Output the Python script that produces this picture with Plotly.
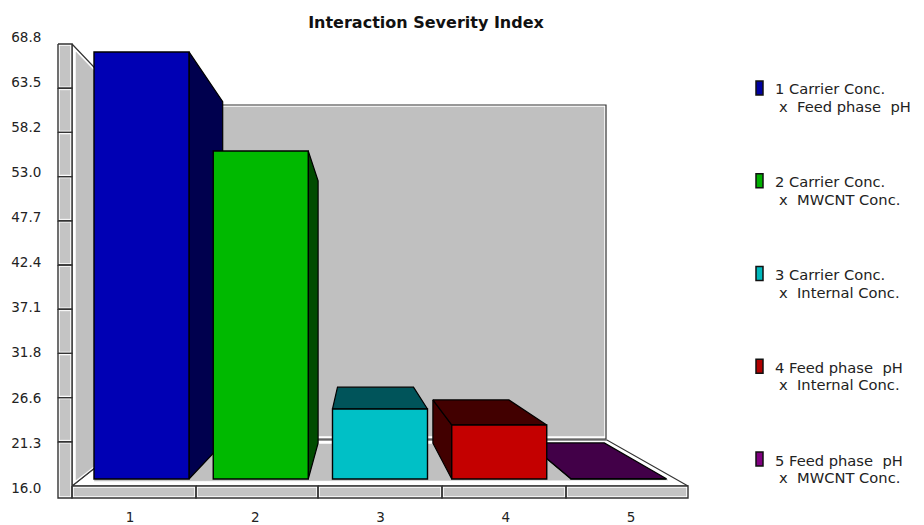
import plotly.graph_objects as go

# ---- data ----
categories = [1, 2, 3, 4, 5]
severity = [67.05, 55.46, 25.25, 23.38, 17.1]
bar_floor = 17.05
front_colors = ["#0000b4", "#00b900", "#00c0c6", "#c40000", "#7a007a"]
shade_colors = ["#00004e", "#004c00", "#00545a", "#420000", "#420048"]
y_tick_values = [16.0, 21.28, 26.56, 31.84, 37.12, 42.4, 47.68, 52.96, 58.24, 63.52, 68.8]
y_tick_labels = ["16.0", "21.3", "26.6", "31.8", "37.1", "42.4", "47.7", "53.0", "58.2", "63.5", "68.8"]
legend_first = ["1 Carrier Conc.", "2 Carrier Conc.", "3 Carrier Conc.", "4 Feed phase\u00a0 pH", "5 Feed phase\u00a0 pH"]
legend_second = ["x\u00a0 Feed phase\u00a0 pH", "x\u00a0 MWCNT Conc.", "x\u00a0 Internal Conc.", "x\u00a0 Internal Conc.", "x\u00a0 MWCNT Conc."]
swatch_colors = ["#0000a0", "#00b000", "#00b8bc", "#b00000", "#800080"]
title_text = "Interaction Severity Index"

# ---- layout constants ----
W, H = 924, 525
ML, MR, MT, MB = 46, 0, 20, 23
X_PX_1, X_PX_STEP = 141.5, 119.25      # where category 1 sits, and the spacing
Y_PX_16, Y_PX_UNIT = 488.0, 451.0 / 52.8
BAR_WIDTH = 95 / X_PX_STEP
DEPTH = 0.8                            # perspective shrink of the rear plane


def fx(px):
    return 1 + (px - X_PX_1) / X_PX_STEP


def fy(py):
    return 16 + (Y_PX_16 - py) / Y_PX_UNIT


def paper_x(px):
    return (px - ML) / (W - ML - MR)


def paper_y(py):
    return 1 - (py - MT) / (H - MT - MB)


VP_X, VP_Y = fx(357.5), fy(300)
x_range = [fx(ML), fx(W - MR)]
y_range = [fy(H - MB), fy(MT)]
category_ticks = [fx(130 + 125.25 * i) for i in range(len(categories))]


def back(x, v):
    return VP_X + DEPTH * (x - VP_X), VP_Y + DEPTH * (v - VP_Y)


def polys(list_of_px_polys):
    xs, ys = [], []
    for poly in list_of_px_polys:
        for px, py in poly + [poly[0]]:
            xs.append(fx(px))
            ys.append(fy(py))
        xs.append(None)
        ys.append(None)
    return xs, ys


def rect(x0, x1, y0, y1):
    return [(x0, y0), (x1, y0), (x1, y1), (x0, y1)]


fig = go.Figure()


def add_frame(list_of_polys, fill, line, width):
    xs, ys = polys(list_of_polys)
    fig.add_trace(go.Scatter(x=xs, y=ys, mode="lines", fill="toself", fillcolor=fill,
                             line=dict(color=line, width=width), hoverinfo="skip", showlegend=False))


# back wall
add_frame([rect(130, 606, 105, 439)], "#ffffff", "#333333", 1.2)
add_frame([rect(132, 604, 107, 436)], "#c0c0c0", "#c0c0c0", 0.5)
# floor
add_frame([[(130, 440), (607, 440), (688, 486), (72, 486)]], "#ffffff", "#333333", 1.2)
add_frame([[(94, 481), (130, 444), (604, 444), (668, 480)]], "#c0c0c0", "#c0c0c0", 0.5)
# left wall
add_frame([[(72, 44), (130, 105), (130, 440), (72, 486)]], "#ffffff", "#333333", 1.2)
add_frame([[(76, 52), (128, 106), (128, 440), (76, 480)]], "#c0c0c0", "#c0c0c0", 0.5)
# front rails: one cell per axis step
rail_lines = [44 + 44.2 * i for i in range(11)]
left_cells = [rect(58, 72, rail_lines[i], rail_lines[i + 1]) for i in range(10)]
left_cells[-1] = rect(58, 72, rail_lines[9], 498)
bottom_edges = [72, 196, 318, 442, 566, 688]
bottom_cells = [rect(bottom_edges[i], bottom_edges[i + 1], 486, 498) for i in range(5)]
add_frame(left_cells + bottom_cells, "#ffffff", "#333333", 1.4)
inner = [rect(c[0][0] + 2, c[1][0] - 2, c[0][1] + 2, c[2][1] - 2) for c in left_cells + bottom_cells]
add_frame(inner, "#c4c4c4", "#c4c4c4", 0.5)

# bar depth faces: outer bars first so that inner bars overlap them
half = BAR_WIDTH / 2
draw_order = sorted(range(len(categories)), key=lambda i: -abs(categories[i] - VP_X))
for i in draw_order:
    c, v = categories[i], severity[i]
    l, r = c - half, c + half
    faces = []
    if l > VP_X:                       # left face seen only right of the vanishing point
        faces.append(((l, bar_floor), (l, v)))
    if r < VP_X:                       # right face seen only left of it
        faces.append(((r, bar_floor), (r, v)))
    if v < VP_Y:                       # top face seen only below it
        faces.append(((l, v), (r, v)))
    for a, b in faces:
        ba, bb = back(*a), back(*b)
        fig.add_trace(go.Scatter(x=[a[0], b[0], bb[0], ba[0], a[0]], y=[a[1], b[1], bb[1], ba[1], a[1]],
                                 mode="lines", fill="toself", fillcolor=shade_colors[i],
                                 line=dict(color="#000000", width=1.2), hoverinfo="skip", showlegend=False))

# bar fronts on an overlaid pair of axes, above every depth face
fig.add_trace(go.Bar(x=categories, y=[v - bar_floor for v in severity], base=bar_floor, width=BAR_WIDTH,
                     marker=dict(color=front_colors, line=dict(color="#000000", width=1.4)),
                     xaxis="x2", yaxis="y2", showlegend=False,
                     customdata=severity, hovertemplate="%{x}: %{customdata}<extra></extra>"))

FONT = "DejaVu Sans"
LEGEND_FONT = dict(family=FONT, size=14.7, color="#222222")
annotations, shapes = [], []
for i in range(len(categories)):
    top = 81 + 92.75 * i
    annotations.append(dict(text=legend_first[i], xref="paper", yref="paper", x=paper_x(773), y=paper_y(top + 8),
                            xanchor="left", yanchor="middle", showarrow=False, font=LEGEND_FONT))
    annotations.append(dict(text=legend_second[i], xref="paper", yref="paper", x=paper_x(776.5), y=paper_y(top + 25.5),
                            xanchor="left", yanchor="middle", showarrow=False, font=LEGEND_FONT))
    shapes.append(dict(type="rect", xref="paper", yref="paper", x0=paper_x(756), x1=paper_x(763),
                       y0=paper_y(top + 14), y1=paper_y(top), fillcolor=swatch_colors[i],
                       line=dict(color="#111111", width=1.5)))

fig.update_layout(
    width=W, height=H, margin=dict(l=ML, r=MR, t=MT, b=MB, pad=0),
    paper_bgcolor="#ffffff", plot_bgcolor="rgba(0,0,0,0)",
    title=dict(text="<b>" + title_text + "</b>", x=426 / W, y=1 - 22 / H, xanchor="center", yanchor="middle",
               font=dict(family=FONT, size=16, color="#111111")),
    xaxis=dict(range=x_range, showgrid=False, zeroline=False, showline=False, tickmode="array", automargin=False,
               tickvals=category_ticks, ticktext=[str(c) for c in categories], ticks="outside", ticklen=3,
               tickcolor="rgba(0,0,0,0)", tickfont=dict(family=FONT, size=13.5, color="#222222")),
    yaxis=dict(range=y_range, showgrid=False, zeroline=False, showline=False, tickmode="array", automargin=False,
               tickvals=y_tick_values, ticktext=y_tick_labels, ticks="outside", ticklen=1,
               tickcolor="rgba(0,0,0,0)", tickfont=dict(family=FONT, size=13.5, color="#222222")),
    xaxis2=dict(range=x_range, overlaying="x", visible=False),
    yaxis2=dict(range=y_range, overlaying="y", visible=False),
    annotations=annotations, shapes=shapes, showlegend=False,
)

fig.write_html("out.html", config={"displayModeBar": False}, post_script="document.body.style.margin='0';")
